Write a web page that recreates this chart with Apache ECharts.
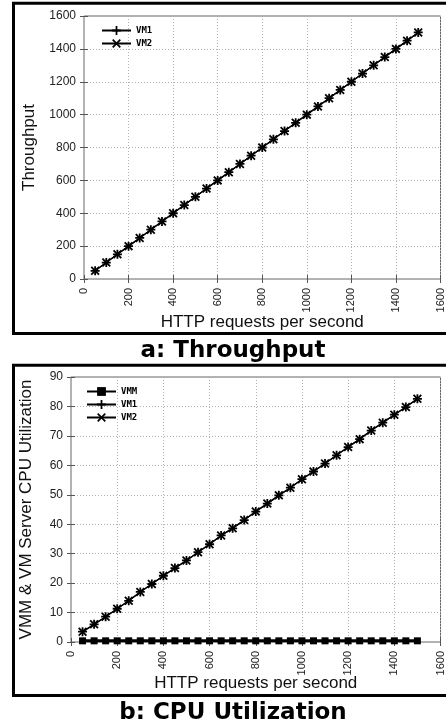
<!DOCTYPE html>
<html>
<head>
<meta charset="utf-8">
<script src="https://cdn.jsdelivr.net/npm/echarts@6/dist/echarts.min.js"></script>
<style>
html, body { margin: 0; padding: 0; background: #fff; }
#main { width: 446px; height: 727px; }
</style>
</head>
<body>
<div id="main"></div>
<script>
// request rates (HTTP requests per second)
var requests = [50, 100, 150, 200, 250, 300, 350, 400, 450, 500, 550, 600, 650, 700, 750,
                800, 850, 900, 950, 1000, 1050, 1100, 1150, 1200, 1250, 1300, 1350, 1400, 1450, 1500];

// a: throughput
var throughputVM1 = [50, 100, 150, 200, 250, 300, 350, 400, 450, 500, 550, 600, 650, 700, 750,
                     800, 850, 900, 950, 1000, 1050, 1100, 1150, 1200, 1250, 1300, 1350, 1400, 1450, 1500];
var throughputVM2 = [50, 100, 150, 200, 250, 300, 350, 400, 450, 500, 550, 600, 650, 700, 750,
                     800, 850, 900, 950, 1000, 1050, 1100, 1150, 1200, 1250, 1300, 1350, 1400, 1450, 1500];

// b: cpu utilization
var cpuVMM = [0.4, 0.4, 0.4, 0.4, 0.4, 0.4, 0.4, 0.4, 0.4, 0.4, 0.4, 0.4, 0.4, 0.4, 0.4,
              0.4, 0.4, 0.4, 0.4, 0.4, 0.4, 0.4, 0.4, 0.4, 0.4, 0.4, 0.4, 0.4, 0.4, 0.4];
var cpuVM1 = [3.5, 6.0, 8.6, 11.3, 14.0, 17.0, 19.7, 22.5, 25.1, 27.7, 30.5, 33.2, 36.2, 38.6, 41.4,
              44.3, 47.0, 49.8, 52.4, 55.3, 57.9, 60.6, 63.4, 66.2, 68.9, 71.8, 74.5, 77.2, 79.8, 82.6];
var cpuVM2 = [3.5, 6.0, 8.6, 11.3, 14.0, 17.0, 19.7, 22.5, 25.1, 27.7, 30.5, 33.2, 36.2, 38.6, 41.4,
              44.3, 47.0, 49.8, 52.4, 55.3, 57.9, 60.6, 63.4, 66.2, 68.9, 71.8, 74.5, 77.2, 79.8, 82.6];

var plusPath = 'path://M4,0H6V4H10V6H6V10H4V6H0V4H4Z';
var crossPath = 'path://M0,1.4L1.4,0L5,3.6L8.6,0L10,1.4L6.4,5L10,8.6L8.6,10L5,6.4L1.4,10L0,8.6L3.6,5Z';

function pairs(xs, ys) {
    var out = [];
    for (var i = 0; i < xs.length; i++) out.push([xs[i], ys[i]]);
    return out;
}
function plain(v) { return String(v); }

var tickFont = 'Liberation Sans';
var dotted = { type: [1, 2], color: '#b0b0b0', width: 1 };

function mainX(grid, gap) {
    return {
        type: 'value', gridIndex: grid, min: 0, max: 1600, interval: 200,
        name: 'HTTP requests per second', nameLocation: 'middle', nameGap: gap, nameMoveOverlap: false,
        nameTextStyle: { fontFamily: tickFont, fontSize: 17, color: '#111' },
        axisLine: { show: false },
        axisTick: { inside: true, length: 4, lineStyle: { color: '#555' } },
        axisLabel: { rotate: 90, margin: 9, fontFamily: tickFont, fontSize: 11, color: '#222', formatter: plain },
        splitLine: { show: true, lineStyle: dotted }
    };
}
function mirrorX(grid) {
    return {
        type: 'value', gridIndex: grid, position: 'top', min: 0, max: 1600, interval: 200,
        axisLine: { show: false }, axisLabel: { show: false }, splitLine: { show: false },
        axisTick: { inside: true, length: 4, lineStyle: { color: '#555' } }
    };
}
function mainY(grid, max, interval, name, gap) {
    return {
        type: 'value', gridIndex: grid, min: 0, max: max, interval: interval,
        name: name, nameLocation: 'middle', nameGap: gap, nameMoveOverlap: false,
        nameTextStyle: { fontFamily: tickFont, fontSize: 17, color: '#111' },
        axisLine: { show: false },
        axisTick: { inside: true, length: 4, lineStyle: { color: '#555' } },
        axisLabel: { margin: 8, fontFamily: tickFont, fontSize: 12, color: '#222', formatter: plain },
        splitLine: { show: true, lineStyle: dotted }
    };
}
function mirrorY(grid, max, interval) {
    return {
        type: 'value', gridIndex: grid, position: 'right', min: 0, max: max, interval: interval,
        axisLine: { show: false }, axisLabel: { show: false }, splitLine: { show: false },
        axisTick: { inside: true, length: 4, lineStyle: { color: '#555' } }
    };
}
function lineSeries(name, xi, yi, data, symbol, size, width) {
    return {
        name: name, type: 'line', xAxisIndex: xi, yAxisIndex: yi,
        data: data, symbol: symbol, symbolSize: size, showAllSymbol: true,
        lineStyle: { color: '#000', width: width },
        itemStyle: { color: '#000' }
    };
}

var legendText = { fontFamily: 'DejaVu Sans Mono', fontSize: 9, fontWeight: 'bold', color: '#000' };

var myChart = echarts.init(document.getElementById('main'));
var option = {
    animation: false,
    backgroundColor: '#fff',
    grid: [
        { left: 84, top: 16, width: 359, height: 263, show: true, borderColor: '#666', borderWidth: 1 },
        { left: 71, top: 377, width: 372, height: 265, show: true, borderColor: '#666', borderWidth: 1 }
    ],
    xAxis: [mainX(0, 35), mirrorX(0), mainX(1, 33), mirrorX(1)],
    yAxis: [mainY(0, 1600, 200, 'Throughput', 46), mirrorY(0, 1600, 200),
            mainY(1, 90, 10, 'VMM & VM Server CPU Utilization', 36), mirrorY(1, 90, 10)],
    legend: [
        { data: ['VM1', 'VM2'], left: 96, top: 21, orient: 'vertical', itemWidth: 29, itemHeight: 11,
          itemGap: 4, selectedMode: false, textStyle: legendText },
        { data: ['VMM', 'VM1', 'VM2'], left: 81, top: 382, orient: 'vertical', itemWidth: 29, itemHeight: 11,
          itemGap: 4, selectedMode: false, textStyle: legendText }
    ],
    series: [
        lineSeries('VM1', 0, 0, pairs(requests, throughputVM1), plusPath, 9, 1.3),
        lineSeries('VM2', 0, 0, pairs(requests, throughputVM2), crossPath, 9, 1.3),
        lineSeries('VMM', 2, 2, pairs(requests, cpuVMM), 'rect', 7, 3),
        lineSeries('VM1', 2, 2, pairs(requests, cpuVM1), plusPath, 9, 1.3),
        lineSeries('VM2', 2, 2, pairs(requests, cpuVM2), crossPath, 9, 1.3)
    ],
    graphic: [
        { type: 'rect', silent: true, shape: { x: 13.5, y: 3.2, width: 460, height: 330.3 },
          style: { fill: null, stroke: '#000', lineWidth: 3 } },
        { type: 'rect', silent: true, shape: { x: 13.5, y: 365.3, width: 460, height: 330.2 },
          style: { fill: null, stroke: '#000', lineWidth: 3 } },
        { type: 'text', x: 233, y: 351, silent: true,
          style: { text: 'a: Throughput', fontFamily: 'DejaVu Sans', fontWeight: 'bold', fontSize: 23,
                   fill: '#000', align: 'center', verticalAlign: 'middle' } },
        { type: 'text', x: 233, y: 713, silent: true,
          style: { text: 'b: CPU Utilization', fontFamily: 'DejaVu Sans', fontWeight: 'bold', fontSize: 23,
                   fill: '#000', align: 'center', verticalAlign: 'middle' } }
    ]
};
myChart.setOption(option);
</script>
</body>
</html>
